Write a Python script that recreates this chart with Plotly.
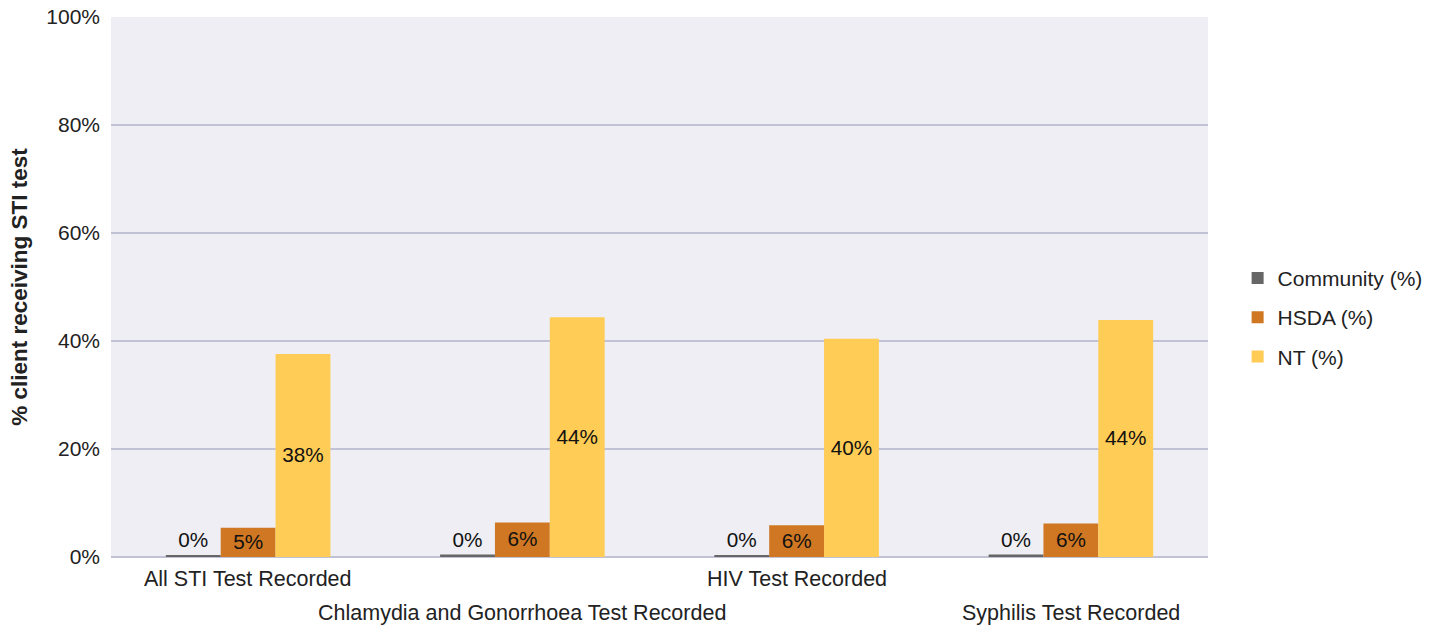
import plotly.graph_objects as go

categories = [
    "All STI Test Recorded",
    "Chlamydia and Gonorrhoea Test Recorded",
    "HIV Test Recorded",
    "Syphilis Test Recorded",
]
community = [0.2, 0.45, 0.3, 0.45]
hsda = [5.4, 6.4, 5.9, 6.2]
nt = [37.6, 44.4, 40.4, 43.9]

y_tick_values = [0, 20, 40, 60, 80, 100]
y_tick_labels = ["0%", "20%", "40%", "60%", "80%", "100%"]

series = [
    ("Community (%)", community, "#666666", "outside"),
    ("HSDA (%)", hsda, "#CF7722", "inside"),
    ("NT (%)", nt, "#FFCC55", "inside"),
]

FONT = "Liberation Sans, Arial, sans-serif"
TXT = "#222222"

fig = go.Figure()
for i, (name, vals, color, pos) in enumerate(series):
    fig.add_trace(go.Bar(
        name=name,
        x=categories,
        y=vals,
        marker=dict(color=color, line=dict(width=0)),
        text=[f"{v:.0f}%" for v in vals],
        textposition=pos,
        insidetextanchor="middle",
        textfont=dict(family=FONT, size=21.5, color="#111111"),
        cliponaxis=False,
        legendgroup=f"g{i}",
    ))

# staggered category labels below the axis
for i, cat in enumerate(categories):
    fig.add_annotation(
        x=cat, xref="x", y=0, yref="paper",
        text=cat, showarrow=False,
        xanchor="center", yanchor="top",
        yshift=-8 if i % 2 == 0 else -42,
        font=dict(family=FONT, size=21.5, color=TXT),
    )

fig.update_layout(
    width=1451, height=634,
    margin=dict(l=111, r=243, t=17, b=77, autoexpand=False),
    paper_bgcolor="white",
    plot_bgcolor="#EEEEF4",
    barmode="group",
    bargap=0.4,
    bargroupgap=0,
    font=dict(family=FONT, size=21, color=TXT),
    uniformtext=dict(minsize=20, mode="show"),
    legend=dict(
        x=1.027, xanchor="left", y=0.444, yanchor="middle",
        font=dict(family=FONT, size=21, color=TXT),
        tracegroupgap=9,
        bgcolor="rgba(0,0,0,0)",
    ),
    showlegend=True,
)
fig.update_xaxes(showticklabels=False, showgrid=False, zeroline=False, showline=False)
fig.update_yaxes(
    range=[0, 100],
    tickmode="array",
    tickvals=y_tick_values,
    ticktext=y_tick_labels,
    automargin=False,
    showgrid=True, gridcolor="#C2C2D6", gridwidth=2,
    zeroline=True, zerolinecolor="#C2C2D6", zerolinewidth=2,
    showline=False,
    ticklabelstandoff=10,
    tickfont=dict(family=FONT, size=21, color=TXT),
    title=dict(text="<b>% client receiving STI test</b>",
               font=dict(family=FONT, size=22.5, color=TXT), standoff=12),
)

fig.write_html("out.html")
